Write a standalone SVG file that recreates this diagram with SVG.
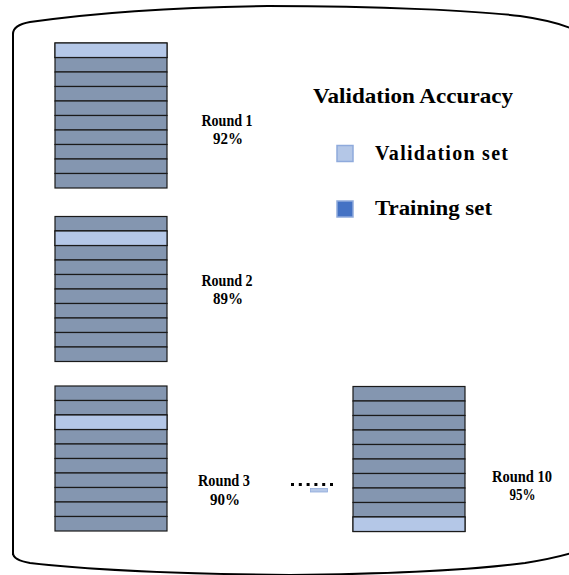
<svg xmlns="http://www.w3.org/2000/svg" width="569" height="575" viewBox="0 0 569 575">
  <style>
    .frame { fill: none; stroke: #000; stroke-width: 2; }
    .train { fill: #8496B0; stroke: #1a1a1a; stroke-width: 1.2; }
    .val { fill: #B4C7E7; stroke: #1a1a1a; stroke-width: 1.2; }
    .lbl { font-family: "Liberation Serif", "Times New Roman", serif; font-weight: bold; font-size: 16px; fill: #000; text-anchor: middle; }
    .title { font-family: "Liberation Serif", "Times New Roman", serif; font-weight: bold; font-size: 21px; fill: #000; }
    .key { font-family: "Liberation Serif", "Times New Roman", serif; font-weight: bold; font-size: 20px; fill: #000; }
  </style>
  <defs>
    <!-- one 10-fold stack: ten rows of 14.5 px, all training by default -->
    <g id="rows">
      <rect class="train" x="0" y="0" width="112" height="14.5"/>
      <rect class="train" x="0" y="14.5" width="112" height="14.5"/>
      <rect class="train" x="0" y="29" width="112" height="14.5"/>
      <rect class="train" x="0" y="43.5" width="112" height="14.5"/>
      <rect class="train" x="0" y="58" width="112" height="14.5"/>
      <rect class="train" x="0" y="72.5" width="112" height="14.5"/>
      <rect class="train" x="0" y="87" width="112" height="14.5"/>
      <rect class="train" x="0" y="101.5" width="112" height="14.5"/>
      <rect class="train" x="0" y="116" width="112" height="14.5"/>
      <rect class="train" x="0" y="130.5" width="112" height="14.5"/>
    </g>
  </defs>

  <!-- outer container -->
  <g id="container">
    <path class="frame" d="M13,555 L13,34 Q13,25 30,22 C100,12 180,7 268,6 C380,6 480,11 520,16 C548,20 562,24 575,30"/>
    <path class="frame" d="M13,553 Q13,560 30,563 C100,571 180,574 290,575 C400,574 480,569 525,563 C550,559 562,556 575,552"/>
  </g>

  <!-- round 1: fold 1 held out -->
  <g id="round1">
    <use href="#rows" x="55" y="43"/>
    <rect class="val" x="55" y="43" width="112" height="14.5"/>
    <text class="lbl" x="227" y="125.5" textLength="51" lengthAdjust="spacingAndGlyphs">Round 1</text>
    <text class="lbl" x="228" y="143.5" textLength="30" lengthAdjust="spacingAndGlyphs">92%</text>
  </g>

  <!-- round 2: fold 2 held out -->
  <g id="round2">
    <use href="#rows" x="55" y="216.5"/>
    <rect class="val" x="55" y="231" width="112" height="14.5"/>
    <text class="lbl" x="227" y="285.5" textLength="51" lengthAdjust="spacingAndGlyphs">Round 2</text>
    <text class="lbl" x="228" y="303.5" textLength="30" lengthAdjust="spacingAndGlyphs">89%</text>
  </g>

  <!-- round 3: fold 3 held out -->
  <g id="round3">
    <use href="#rows" x="55" y="386"/>
    <rect class="val" x="55" y="415" width="112" height="14.5"/>
    <text class="lbl" x="224" y="486" textLength="52" lengthAdjust="spacingAndGlyphs">Round 3</text>
    <text class="lbl" x="225" y="505" textLength="30" lengthAdjust="spacingAndGlyphs">90%</text>
  </g>

  <!-- ellipsis between round 3 and round 10 -->
  <g id="ellipsis">
    <rect x="291" y="483" width="3" height="3" fill="#000"/>
    <rect x="298.8" y="483" width="3" height="3" fill="#000"/>
    <rect x="306.6" y="483" width="3" height="3" fill="#000"/>
    <rect x="314.4" y="483" width="3" height="3" fill="#000"/>
    <rect x="322.2" y="483" width="3" height="3" fill="#000"/>
    <rect x="330" y="483" width="3" height="3" fill="#000"/>
    <rect x="310.5" y="488.5" width="17" height="3.5" fill="#B4C7E7" stroke="#8FAADC" stroke-width="0.8"/>
  </g>

  <!-- round 10: last fold held out -->
  <g id="round10">
    <use href="#rows" x="353" y="386.5"/>
    <rect class="val" x="353" y="517" width="112" height="14.5"/>
    <text class="lbl" x="522" y="481.5" textLength="60" lengthAdjust="spacingAndGlyphs">Round 10</text>
    <text class="lbl" x="522.5" y="499.5" textLength="26" lengthAdjust="spacingAndGlyphs">95%</text>
  </g>

  <!-- legend -->
  <g id="legend">
    <text class="title" x="313" y="103" textLength="200" lengthAdjust="spacingAndGlyphs">Validation Accuracy</text>
    <rect x="337" y="145.5" width="16" height="16" fill="#B4C7E7" stroke="#8FAADC" stroke-width="1.5"/>
    <text class="key" x="375" y="160" textLength="133" lengthAdjust="spacing">Validation set</text>
    <rect x="337" y="201" width="16" height="16" fill="#4472C4" stroke="#8FAADC" stroke-width="1.5"/>
    <text class="key" x="375" y="215" textLength="117" lengthAdjust="spacingAndGlyphs">Training set</text>
  </g>
</svg>
